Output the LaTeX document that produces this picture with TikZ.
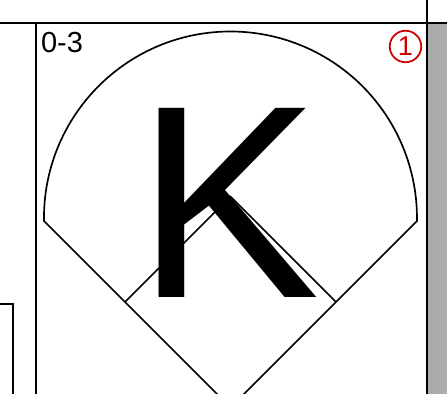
\documentclass[tikz,border=0pt]{standalone}
\usepackage{fontspec}
\setmainfont{Liberation Sans}
\usetikzlibrary{positioning}
\definecolor{fdred}{RGB}{204,0,0}
\definecolor{fdgray}{RGB}{171,171,171}
\begin{document}
\begin{tikzpicture}[x=0.02cm,y=0.02cm,
    frame/.style={draw=black,line width=1.1pt},
    field/.style={draw=black,line width=0.95pt,line join=miter},
    label/.style={inner sep=0pt,outer sep=0pt,font=\fontsize{16.5}{18}\selectfont}]
    \clip (0,0) rectangle (447,394);
    % side strip and cell borders
    \fill[fdgray] (428,0) rectangle (447,370);
    \draw[frame] (0,371) -- (447,371);
    \draw[frame] (427,394) -- (427,0);
    \draw[frame] (36,371) -- (36,0);
    \draw[frame] (0,90) -- (13,90) -- (13,0);
    % the field
    \coordinate (home) at (230.5,-13.5);
    \coordinate (lfoul) at (44,173);
    \coordinate (rfoul) at (417,173);
    \coordinate (third) at (125,92);
    \coordinate (first) at (336,92);
    \coordinate (second) at (230.5,197.5);
    \draw[field] (home) -- (lfoul)
      arc[start angle=180.92,end angle=-0.92,radius=186.5] -- cycle;
    \draw[field] (third) -- (second) -- (first);
    \node[inner sep=0pt,outer sep=0pt,anchor=base,
          font=\fontsize{156.5}{160}\selectfont] (result) at (228.5,96) {K};
    \node[label,anchor=base west] (count) at (41,341) {0-3};
    \node[circle,draw=fdred,text=fdred,line width=1pt,minimum size=0.63cm,
          inner sep=0pt,font=\fontsize{15.5}{17}\selectfont] (inning) at (405.5,347.5) {1};
\end{tikzpicture}
\end{document}
